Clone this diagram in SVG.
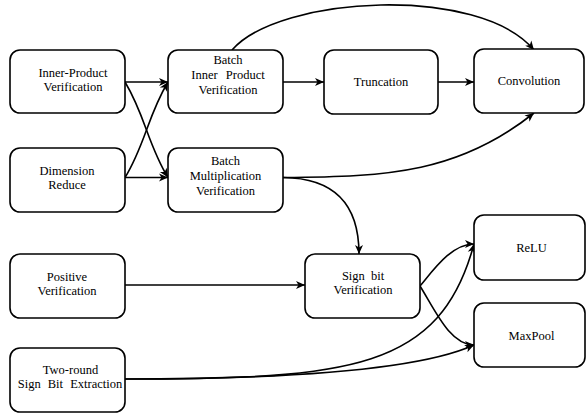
<svg xmlns="http://www.w3.org/2000/svg" width="586" height="415" viewBox="0 0 586 415">
  <style>
    .box { fill: #ffffff; stroke: #000000; stroke-width: 1.6; }
    .lbl { font-family: "Liberation Serif", "Times New Roman", Tinos, "DejaVu Serif", serif; font-size: 12.5px; fill: #000000; text-anchor: middle; }
    .edge { fill: none; stroke: #000000; stroke-width: 1.6; marker-end: url(#arrow); }
  </style>
  <defs>
    <marker id="arrow" viewBox="-10 -5 11 10" refX="0" refY="0" markerWidth="11" markerHeight="10" markerUnits="userSpaceOnUse" orient="auto">
      <path d="M0,0 L-9,-4 L-6.5,0 L-9,4 Z" fill="#000000"/>
    </marker>
  </defs>
  <rect width="586" height="415" fill="#ffffff"/>

  <!-- connectors -->
  <g id="edges">
    <path class="edge" d="M125,82 L168,82"/>
    <path class="edge" d="M125,82 C145,115 148,145 168,177.5"/>
    <path class="edge" d="M125,177.5 L168,177.5"/>
    <path class="edge" d="M125,177.5 C145,145 148,115 168,82"/>
    <path class="edge" d="M283,82 L324,82"/>
    <path class="edge" d="M438,82 L474,82"/>
    <path class="edge" d="M232,50 C280,-5 480,-15 534,50"/>
    <path class="edge" d="M283,177.5 C390,177 460,172 534,113"/>
    <path class="edge" d="M283,177.5 C330,178 359,200 359,254"/>
    <path class="edge" d="M125,285 L305,285"/>
    <path class="edge" d="M420,286 C435,268 452,244 474,244"/>
    <path class="edge" d="M420,286 C435,310 450,345 474,345"/>
    <path class="edge" d="M125,379 C350,379 440,370 474,244"/>
    <path class="edge" d="M125,379 C330,379 430,365 474,345"/>
  </g>

  <!-- nodes -->
  <g id="inner-product">
    <rect class="box" x="10" y="50" width="115" height="63" rx="10"/>
    <text class="lbl" x="73" y="77">Inner-Product</text>
    <text class="lbl" x="73" y="91">Verification</text>
  </g>
  <g id="dimension-reduce">
    <rect class="box" x="10" y="148" width="115" height="64" rx="10"/>
    <text class="lbl" x="67" y="175">Dimension</text>
    <text class="lbl" x="67" y="189">Reduce</text>
  </g>
  <g id="batch-inner-product">
    <rect class="box" x="168" y="50" width="115" height="63" rx="10"/>
    <text class="lbl" x="228" y="64">Batch</text>
    <text class="lbl" x="228" y="79" word-spacing="5">Inner Product</text>
    <text class="lbl" x="228" y="93.5">Verification</text>
  </g>
  <g id="batch-multiplication">
    <rect class="box" x="168" y="148" width="115" height="64" rx="10"/>
    <text class="lbl" x="225.5" y="165">Batch</text>
    <text class="lbl" x="225.5" y="180">Multiplication</text>
    <text class="lbl" x="225.5" y="194.5">Verification</text>
  </g>
  <g id="truncation">
    <rect class="box" x="324" y="50" width="114" height="64" rx="10"/>
    <text class="lbl" x="381" y="86">Truncation</text>
  </g>
  <g id="convolution">
    <rect class="box" x="474" y="49" width="110" height="64" rx="10"/>
    <text class="lbl" x="529" y="85">Convolution</text>
  </g>
  <g id="positive-verification">
    <rect class="box" x="10" y="254" width="115" height="64" rx="10"/>
    <text class="lbl" x="67" y="281">Positive</text>
    <text class="lbl" x="67" y="295">Verification</text>
  </g>
  <g id="sign-bit-verification">
    <rect class="box" x="305" y="254" width="115" height="64" rx="10"/>
    <text class="lbl" x="363" y="280" word-spacing="3">Sign bit</text>
    <text class="lbl" x="363" y="294">Verification</text>
  </g>
  <g id="relu">
    <rect class="box" x="474" y="215" width="111" height="65" rx="10"/>
    <text class="lbl" x="531.5" y="251.5">ReLU</text>
  </g>
  <g id="maxpool">
    <rect class="box" x="474" y="303" width="111" height="64" rx="10"/>
    <text class="lbl" x="531.5" y="340">MaxPool</text>
  </g>
  <g id="two-round">
    <rect class="box" x="10" y="348" width="115" height="64" rx="10"/>
    <text class="lbl" x="70.5" y="373.5">Two-round</text>
    <text class="lbl" x="70" y="387.5" word-spacing="4">Sign Bit Extraction</text>
  </g>
</svg>
